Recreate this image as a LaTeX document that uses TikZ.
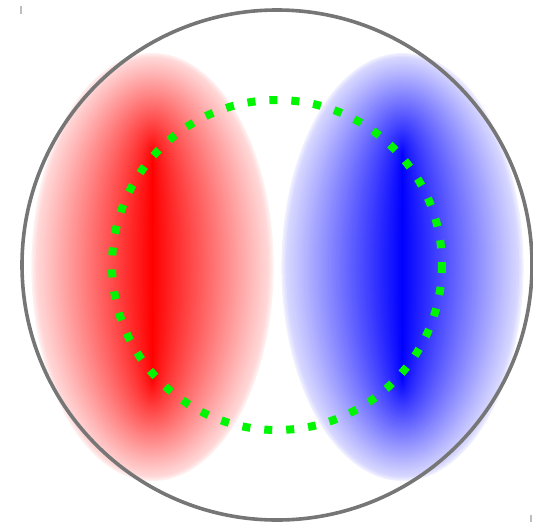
\documentclass[tikz,border=0pt]{standalone}
\usepackage{xcolor}
\usetikzlibrary{calc}
\definecolor{ringGray}{RGB}{118,118,118}
\definecolor{lobeRed}{RGB}{255,0,0}
\definecolor{lobeBlue}{RGB}{0,0,255}
\definecolor{nodeGreen}{RGB}{0,245,0}
\definecolor{tickGray}{RGB}{190,190,190}
\newcommand{\LobeShade}[2]{%
  \foreach \k in {0,...,80}{%
    \pgfmathsetmacro{\t}{\k/80}%
    \pgfmathsetmacro{\mix}{ifthenelse(\k<3,6+3*\k,12+88*\t)}%
    \fill[#2!\mix!white] (#1) ellipse [x radius={120.5*(1-\t)+0.6},y radius={214-102*\t}];
  }}
\begin{document}
\begin{tikzpicture}[x=0.5pt,y=-0.5pt,line cap=butt,line join=miter]
  \useasboundingbox (0,0) rectangle (533,524);
  \coordinate (O) at (277,265);
  \coordinate (L) at (152.5,267);
  \coordinate (R) at (402.5,267);
  \LobeShade{L}{lobeRed}
  \LobeShade{R}{lobeBlue}
  \draw[nodeGreen,line width=4pt,dash pattern=on 4pt off 7pt] (O) circle [radius=165];
  \draw[ringGray,line width=1.8pt] (O) circle [radius=255];
  \draw[tickGray,line width=1pt] (21,6) -- (21,14);
  \draw[tickGray,line width=1pt] (531,515) -- (531,522);
\end{tikzpicture}
\end{document}
